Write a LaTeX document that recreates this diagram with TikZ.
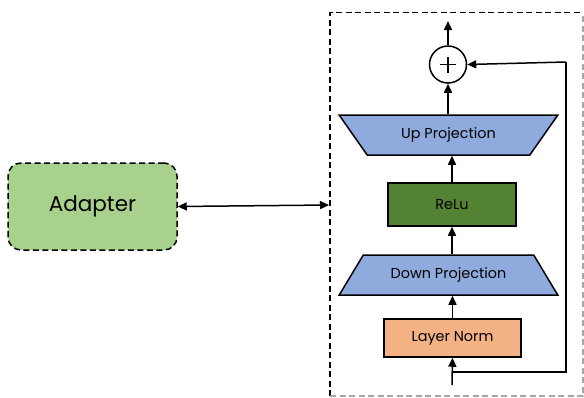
\documentclass[tikz,border=0pt]{standalone}
\usepackage{fontspec}
\setmainfont{Poppins}
\usetikzlibrary{arrows.meta,shapes.geometric}
\definecolor{projblue}{HTML}{8FAADC}
\definecolor{reluGreen}{HTML}{548235}
\definecolor{normOrange}{HTML}{F4B183}
\definecolor{adaptGreen}{HTML}{A9D18E}
\definecolor{frameGray}{HTML}{A6A6A6}
\tikzset{
  tip/.tip={Triangle[length=9pt,width=8pt]},
  arr/.style={-tip, line width=1.5pt},
  blockbox/.style={draw=black, line width=1.5pt, inner sep=0pt, font=\fontsize{14.4}{16}\selectfont},
  projbox/.style={blockbox, trapezium, trapezium stretches=true, trapezium angle=42,
    minimum width=219pt, minimum height=40pt, fill=projblue},
  frameline/.style={dash pattern=on 6pt off 3.5pt, line width=1.5pt},
}
\begin{document}
\begin{tikzpicture}[x=1pt,y=-1pt]
\useasboundingbox (0,0) rectangle (584,397);
% dashed frame around the adapter internals
\draw[frameline] (330,396) -- (330,12.5) -- (583,12.5);
\draw[frameline, frameGray] (330,396) -- (583,396) -- (583,12.5);
% blocks
\node[blockbox, fill=normOrange, minimum width=137pt, minimum height=38pt] (norm) at (452.5,338) {Layer Norm};
\node[projbox] (down) at (448.5,275) {Down Projection};
\node[blockbox, fill=reluGreen, minimum width=128pt, minimum height=43pt] (relu) at (452,204.5) {ReLu};
\node[projbox, shape border rotate=180] (up) at (448.5,135) {Up Projection};
\node[draw, circle, line width=1.5pt, minimum size=37pt, inner sep=0pt] (sum) at (448,64.5) {};
\draw[line width=1.5pt] ([xshift=-8pt]sum.center) -- ([xshift=8pt]sum.center)
  ([yshift=-8pt]sum.center) -- ([yshift=8pt]sum.center);
% adapter block on the left
\node[draw, frameline, rounded corners=13pt, fill=adaptGreen,
  minimum width=169pt, minimum height=87pt, font=\fontsize{21.5}{24}\selectfont] (adapter) at (92.5,206.5) {Adapter};
% connection points
\coordinate (in) at (452,385);
\coordinate (split) at (452,372);
\coordinate (skipbot) at (566,372);
\coordinate (skiptop) at (566,62);
\coordinate (out) at (448,21);
\coordinate (frameleft) at (329,205);
% arrows
\draw[arr] (in) -- (norm.south);
\draw[line width=1.5pt] (split) -- (skipbot) -- (skiptop);
\draw[arr] (skiptop) -- (sum.east);
\draw[arr] (norm.north) -- (norm.north |- down.south);
\draw[arr] (relu.south |- down.north) -- (relu.south);
\draw[arr] (relu.north) -- (relu.north |- up.south);
\draw[arr] (sum.south |- up.north) -- (sum.south);
\draw[arr] (sum.north) -- (out);
\draw[tip-tip, line width=1.5pt] (adapter.east) -- (frameleft);
\end{tikzpicture}
\end{document}
